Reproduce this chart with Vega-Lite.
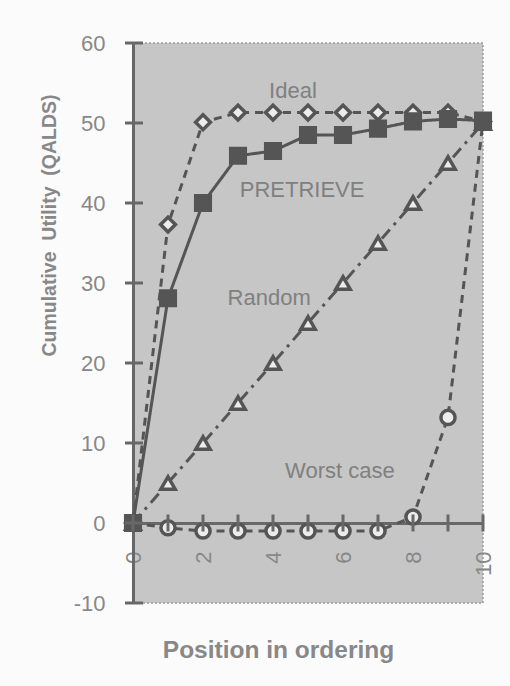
{
  "$schema": "https://vega.github.io/schema/vega-lite/v6.json",
  "width": 350,
  "height": 560,
  "autosize": {"type": "none"},
  "padding": {"left": 133, "top": 43, "right": 27, "bottom": 83},
  "background": "#fbfbfb",
  "config": {
    "view": {"fill": "#c6c6c6", "stroke": "#9a9a9a", "strokeDash": [2, 2], "strokeWidth": 1.5},
    "font": "Liberation Sans",
    "axis": {
      "domainColor": "#686868", "domainWidth": 3, "ticks": false, "grid": false,
      "labelFont": "Liberation Sans", "labelFontSize": 22, "labelColor": "#888888",
      "titleFont": "Liberation Sans", "titleColor": "#888888", "titleFontWeight": "bold"
    },
    "axisX": {
      "offset": -80, "labelAngle": 270, "labelPadding": 28,
      "titleFontSize": 24.5, "titleX": 145, "titleY": 134,
      "titleBaseline": "alphabetic", "titleAlign": "center"
    },
    "axisY": {
      "labelPadding": 28, "labelExpr": "'' + datum.value",
      "titleFontSize": 19.5, "titleX": -78, "titleY": 182,
      "titleAngle": 270, "titleBaseline": "alphabetic", "titleAlign": "center"
    }
  },
  "datasets": {
    "series": [
      {"x": 0, "y": 0, "s": "Ideal"}, {"x": 1, "y": 37.3, "s": "Ideal"}, {"x": 2, "y": 50.1, "s": "Ideal"},
      {"x": 3, "y": 51.3, "s": "Ideal"}, {"x": 4, "y": 51.3, "s": "Ideal"}, {"x": 5, "y": 51.3, "s": "Ideal"},
      {"x": 6, "y": 51.3, "s": "Ideal"}, {"x": 7, "y": 51.3, "s": "Ideal"}, {"x": 8, "y": 51.3, "s": "Ideal"},
      {"x": 9, "y": 51.3, "s": "Ideal"}, {"x": 10, "y": 50.2, "s": "Ideal"},
      {"x": 0, "y": 0, "s": "Random"}, {"x": 1, "y": 5, "s": "Random"}, {"x": 2, "y": 10, "s": "Random"},
      {"x": 3, "y": 15, "s": "Random"}, {"x": 4, "y": 20, "s": "Random"}, {"x": 5, "y": 25, "s": "Random"},
      {"x": 6, "y": 30, "s": "Random"}, {"x": 7, "y": 35, "s": "Random"}, {"x": 8, "y": 40, "s": "Random"},
      {"x": 9, "y": 45, "s": "Random"}, {"x": 10, "y": 50, "s": "Random"},
      {"x": 0, "y": 0, "s": "Worst case"}, {"x": 1, "y": -0.6, "s": "Worst case"}, {"x": 2, "y": -1, "s": "Worst case"},
      {"x": 3, "y": -1, "s": "Worst case"}, {"x": 4, "y": -1, "s": "Worst case"}, {"x": 5, "y": -1, "s": "Worst case"},
      {"x": 6, "y": -1, "s": "Worst case"}, {"x": 7, "y": -1, "s": "Worst case"}, {"x": 8, "y": 0.75, "s": "Worst case"},
      {"x": 9, "y": 13.2, "s": "Worst case"}, {"x": 10, "y": 50.2, "s": "Worst case"},
      {"x": 0, "y": 0, "s": "PRETRIEVE"}, {"x": 1, "y": 28.1, "s": "PRETRIEVE"}, {"x": 2, "y": 40.0, "s": "PRETRIEVE"},
      {"x": 3, "y": 45.9, "s": "PRETRIEVE"}, {"x": 4, "y": 46.5, "s": "PRETRIEVE"}, {"x": 5, "y": 48.5, "s": "PRETRIEVE"},
      {"x": 6, "y": 48.5, "s": "PRETRIEVE"}, {"x": 7, "y": 49.3, "s": "PRETRIEVE"}, {"x": 8, "y": 50.2, "s": "PRETRIEVE"},
      {"x": 9, "y": 50.5, "s": "PRETRIEVE"}, {"x": 10, "y": 50.3, "s": "PRETRIEVE"}
    ],
    "labels": [
      {"x": 4.57, "y": 53.1, "text": "Ideal"},
      {"x": 4.83, "y": 40.8, "text": "PRETRIEVE"},
      {"x": 3.89, "y": 27.25, "text": "Random"},
      {"x": 5.91, "y": 5.6, "text": "Worst case"}
    ],
    "xticks": [
      {"x": 0}, {"x": 1}, {"x": 2}, {"x": 3}, {"x": 4}, {"x": 5},
      {"x": 6}, {"x": 7}, {"x": 8}, {"x": 9}, {"x": 10}
    ],
    "yticks": [
      {"y": -10}, {"y": 0}, {"y": 10}, {"y": 20}, {"y": 30}, {"y": 40}, {"y": 50}, {"y": 60}
    ]
  },
  "layer": [
    {
      "data": {"name": "series"},
      "mark": {"type": "line", "color": "#555555", "strokeWidth": 3},
      "encoding": {
        "x": {"field": "x", "type": "quantitative", "scale": {"domain": [0, 10], "nice": false, "zero": false}, "axis": {"title": "Position in ordering", "values": [0, 2, 4, 6, 8, 10]}},
        "y": {"field": "y", "type": "quantitative", "scale": {"domain": [-10, 60], "nice": false, "zero": false}, "axis": {"title": "Cumulative\u00a0\u00a0Utility\u00a0\u00a0(QALDS)", "values": [-10, 0, 10, 20, 30, 40, 50, 60]}},
        "detail": {"field": "s", "type": "nominal"},
        "strokeDash": {
          "field": "s", "type": "nominal", "legend": null,
          "scale": {"domain": ["Ideal", "PRETRIEVE", "Random", "Worst case"], "range": [[8, 6], [1, 0], [12, 6, 3, 6], [8, 6]]}
        }
      }
    },
    {
      "data": {"name": "labels"},
      "mark": {"type": "text", "font": "Liberation Sans", "fontSize": 22, "color": "#808080", "align": "center", "baseline": "alphabetic"},
      "encoding": {
        "x": {"field": "x", "type": "quantitative", "scale": {"domain": [0, 10], "nice": false, "zero": false}, "axis": {"title": "Position in ordering", "values": [0, 2, 4, 6, 8, 10]}},
        "y": {"field": "y", "type": "quantitative", "scale": {"domain": [-10, 60], "nice": false, "zero": false}, "axis": {"title": "Cumulative\u00a0\u00a0Utility\u00a0\u00a0(QALDS)", "values": [-10, 0, 10, 20, 30, 40, 50, 60]}},
        "text": {"field": "text", "type": "nominal"}
      }
    },
    {
      "data": {"name": "series"},
      "mark": {"type": "point", "filled": true, "opacity": 1, "stroke": "#555555", "strokeWidth": 3.5},
      "encoding": {
        "x": {"field": "x", "type": "quantitative", "scale": {"domain": [0, 10], "nice": false, "zero": false}, "axis": {"title": "Position in ordering", "values": [0, 2, 4, 6, 8, 10]}},
        "y": {"field": "y", "type": "quantitative", "scale": {"domain": [-10, 60], "nice": false, "zero": false}, "axis": {"title": "Cumulative\u00a0\u00a0Utility\u00a0\u00a0(QALDS)", "values": [-10, 0, 10, 20, 30, 40, 50, 60]}},
        "shape": {
          "field": "s", "type": "nominal", "legend": null,
          "scale": {"domain": ["Ideal", "PRETRIEVE", "Random", "Worst case"], "range": ["diamond", "square", "triangle-up", "circle"]}
        },
        "fill": {
          "field": "s", "type": "nominal", "legend": null,
          "scale": {"domain": ["Ideal", "PRETRIEVE", "Random", "Worst case"], "range": ["#ececec", "#555555", "#ececec", "#ececec"]}
        },
        "size": {
          "field": "s", "type": "nominal", "legend": null,
          "scale": {"domain": ["Ideal", "PRETRIEVE", "Random", "Worst case"], "range": [220, 200, 260, 130]}
        }
      }
    },
    {
      "data": {"name": "xticks"},
      "mark": {"type": "point", "shape": "stroke", "angle": 90, "size": 289, "strokeWidth": 3, "color": "#686868", "opacity": 1},
      "encoding": {
        "x": {"field": "x", "type": "quantitative", "scale": {"domain": [0, 10], "nice": false, "zero": false}, "axis": {"title": "Position in ordering", "values": [0, 2, 4, 6, 8, 10]}},
        "y": {"datum": 0, "type": "quantitative", "scale": {"domain": [-10, 60], "nice": false, "zero": false}, "axis": {"title": "Cumulative\u00a0\u00a0Utility\u00a0\u00a0(QALDS)", "values": [-10, 0, 10, 20, 30, 40, 50, 60]}}
      }
    },
    {
      "data": {"name": "yticks"},
      "mark": {"type": "point", "shape": "stroke", "size": 324, "strokeWidth": 3, "color": "#686868", "opacity": 1, "xOffset": 1},
      "encoding": {
        "x": {"datum": 0, "type": "quantitative", "scale": {"domain": [0, 10], "nice": false, "zero": false}, "axis": {"title": "Position in ordering", "values": [0, 2, 4, 6, 8, 10]}},
        "y": {"field": "y", "type": "quantitative", "scale": {"domain": [-10, 60], "nice": false, "zero": false}, "axis": {"title": "Cumulative\u00a0\u00a0Utility\u00a0\u00a0(QALDS)", "values": [-10, 0, 10, 20, 30, 40, 50, 60]}}
      }
    }
  ]
}
